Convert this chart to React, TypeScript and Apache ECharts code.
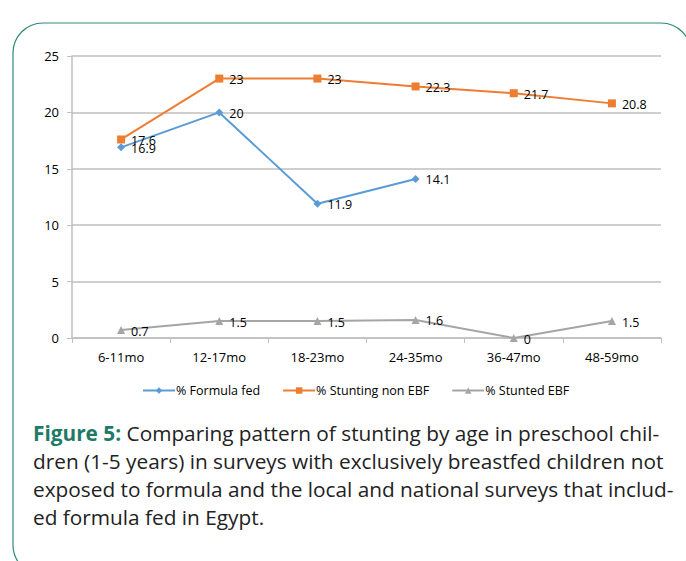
import React, { useEffect, useRef } from "react";
import * as echarts from "echarts";

const categories = ["6-11mo", "12-17mo", "18-23mo", "24-35mo", "36-47mo", "48-59mo"];
const formulaFed = [16.9, 20, 11.9, 14.1, null, null];
const stuntingNonEBF = [17.6, 23, 23, 22.3, 21.7, 20.8];
const stuntedEBF = [0.7, 1.5, 1.5, 1.6, 0, 1.5];
const yTicks = { min: 0, max: 25, interval: 5 };
const captionLines = [
  "Comparing pattern of stunting by age in preschool chil-",
  "dren (1-5 years) in surveys with exclusively breastfed children not",
  "exposed to formula and the local and national surveys that includ-",
  "ed formula fed in Egypt.",
];

const FONT = "'Open Sans', sans-serif";

export default function App() {
  const ref = useRef<HTMLDivElement>(null);
  useEffect(() => {
    const chart = echarts.init(ref.current!, undefined, { renderer: "svg" });
    const label = {
      show: true,
      position: "right",
      distance: 6,
      offset: [0, 1],
      color: "#000",
      fontSize: 12.5,
      fontFamily: FONT,
    };
    chart.setOption({
      animation: false,
      grid: { left: 72, right: 25, top: 56, bottom: 223 },
      xAxis: {
        type: "category",
        data: categories,
        boundaryGap: true,
        axisLine: { lineStyle: { color: "#bfbfbf", width: 1.5 } },
        axisTick: { show: true, alignWithLabel: false, length: 5, lineStyle: { color: "#bfbfbf" } },
        axisLabel: { color: "#000", fontSize: 13, fontFamily: FONT, margin: 12 },
      },
      yAxis: {
        type: "value",
        min: yTicks.min,
        max: yTicks.max,
        interval: yTicks.interval,
        axisLine: { show: true, lineStyle: { color: "#bfbfbf", width: 1.5 } },
        axisTick: { show: true, length: 5, lineStyle: { color: "#bfbfbf" } },
        splitLine: { lineStyle: { color: "#bfbfbf", width: 1.5 } },
        axisLabel: { color: "#000", fontSize: 13, fontFamily: FONT, margin: 13 },
      },
      legend: {
        left: 137,
        top: 379,
        itemWidth: 32,
        itemHeight: 8,
        itemGap: 22,
        textStyle: { color: "#000", fontSize: 12.5, fontFamily: FONT, padding: [0, 0, 0, -4] },
        data: ["% Formula fed", "% Stunting non EBF", "% Stunted EBF"],
      },
      series: [
        {
          name: "% Formula fed",
          type: "line",
          data: formulaFed,
          color: "#5B9BD5",
          symbol: "diamond",
          symbolSize: 8,
          lineStyle: { width: 2 },
          label,
        },
        {
          name: "% Stunting non EBF",
          type: "line",
          data: stuntingNonEBF,
          color: "#ED7D31",
          symbol: "rect",
          symbolSize: 8,
          lineStyle: { width: 2 },
          label,
        },
        {
          name: "% Stunted EBF",
          type: "line",
          data: stuntedEBF,
          color: "#A5A5A5",
          symbol: "triangle",
          symbolSize: 8,
          lineStyle: { width: 2 },
          label,
        },
      ],
      graphic: [
        {
          type: "rect",
          shape: { x: 13, y: 23, width: 678, height: 552, r: 30 },
          style: { fill: "none", stroke: "#2f8a78", lineWidth: 1.2 },
          silent: true,
        },
        {
          type: "text",
          x: 33,
          y: 432.5,
          style: {
            text: "{b|Figure 5:} " + captionLines[0],
            rich: {
              b: { fontWeight: "bold", fill: "#1f7a68", fontSize: 20.8, fontFamily: FONT },
            },
            fill: "#222",
            fontSize: 20.8,
            fontFamily: FONT,
            verticalAlign: "middle",
          },
        },
        ...captionLines.slice(1).map((t, i) => ({
          type: "text",
          x: 33,
          y: 432.5 + (i + 1) * 28.3,
          style: { text: t, fill: "#222", fontSize: 20.8, fontFamily: FONT, verticalAlign: "middle" },
        })),
      ],
    });
    return () => chart.dispose();
  }, []);
  return <div ref={ref} style={{ width: 686, height: 561, position: "absolute", left: 0, top: 0 }} />;
}
